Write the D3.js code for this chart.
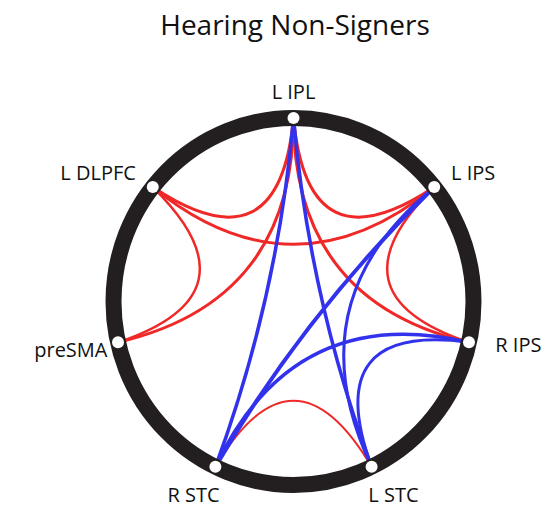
<!DOCTYPE html>
<html>
<head>
<meta charset="utf-8">
<title>Hearing Non-Signers</title>
<script src="https://cdn.jsdelivr.net/npm/d3@7"></script>
<style>
  body { margin: 0; background: #fff; }
  text { font-family: "Open Sans", sans-serif; fill: #111; }
</style>
</head>
<body>
<script>
  // regions round the ring, clockwise from the top
  var regions = ["L IPL", "L IPS", "R IPS", "L STC", "R STC", "preSMA", "L DLPFC"];

  // red connections: [from, to, strength]
  var redLinks = [
    ["L IPL", "L IPS", 3],
    ["L IPL", "L DLPFC", 3],
    ["L DLPFC", "L IPS", 3],
    ["L DLPFC", "preSMA", 2.5],
    ["preSMA", "L IPL", 3],
    ["R IPS", "L IPL", 3],
    ["L IPS", "R IPS", 2.5],
    ["L STC", "R STC", 2]
  ];

  // blue connections: [from, to, strength]
  var blueLinks = [
    ["L IPL", "R STC", 3.5],
    ["L IPL", "L STC", 3.5],
    ["L IPS", "R STC", 4],
    ["L IPS", "L STC", 3],
    ["R IPS", "R STC", 3.5],
    ["R IPS", "L STC", 3]
  ];

  var width = 556, height = 516;
  var cx = 293.5, cy = 301.5, rx = 180, ry = 183.5;

  var svg = d3.select("body").append("svg")
      .attr("width", width)
      .attr("height", height);

  // scales: index -> angle, unit circle -> pixels
  var angle = d3.scaleLinear().domain([0, regions.length]).range([-Math.PI / 2, 3 * Math.PI / 2]);
  var x = d3.scaleLinear().domain([-1, 1]).range([cx - rx, cx + rx]);
  var y = d3.scaleLinear().domain([-1, 1]).range([cy - ry, cy + ry]);
  var stroke = d3.scaleLinear().domain([0, 4]).range([0, 4]);

  function pos(name) {
    var a = angle(regions.indexOf(name));
    return [x(Math.cos(a)), y(Math.sin(a))];
  }

  // how far the bend pulls toward the middle, by number of steps apart
  var pull = [0, 0.8, 1.0, 0.6];

  function linkPath(d) {
    var i = regions.indexOf(d[0]), j = regions.indexOf(d[1]);
    var steps = Math.abs(i - j);
    steps = Math.min(steps, regions.length - steps);
    var p0 = pos(d[0]), p2 = pos(d[1]);
    var mx = (p0[0] + p2[0]) / 2, my = (p0[1] + p2[1]) / 2;
    var f = pull[steps];
    var c = [mx + (x(0) - mx) * f, my + (y(0) - my) * f];
    var p = d3.path();
    p.moveTo(p0[0], p0[1]);
    p.quadraticCurveTo(c[0], c[1], p2[0], p2[1]);
    return p.toString();
  }

  // title
  svg.append("text")
    .attr("x", 295)
    .attr("y", 35)
    .attr("text-anchor", "middle")
    .style("font-size", "28px")
    .text("Hearing Non-Signers");

  var links = svg.append("g").attr("fill", "none");

  links.selectAll(".red")
    .data(redLinks)
    .enter().append("path")
    .attr("class", "red")
    .attr("d", linkPath)
    .attr("stroke", "#f02828")
    .attr("stroke-width", function (d) { return stroke(d[2]); });

  links.selectAll(".blue")
    .data(blueLinks)
    .enter().append("path")
    .attr("class", "blue")
    .attr("d", linkPath)
    .attr("stroke", "#3232ec")
    .attr("stroke-width", function (d) { return stroke(d[2]); });

  // the ring
  svg.append("ellipse")
    .attr("cx", x(0))
    .attr("cy", y(0))
    .attr("rx", rx)
    .attr("ry", ry)
    .attr("fill", "none")
    .attr("stroke", "#231f20")
    .attr("stroke-width", 16);

  // nodes
  svg.selectAll(".node")
    .data(regions)
    .enter().append("circle")
    .attr("class", "node")
    .attr("cx", function (d) { return pos(d)[0]; })
    .attr("cy", function (d) { return pos(d)[1]; })
    .attr("r", 6)
    .attr("fill", "#fff");

  // labels sit outside the ring; side decides the anchor
  function side(d) {
    var a = angle(regions.indexOf(d));
    return { c: Math.cos(a), s: Math.sin(a) };
  }

  svg.selectAll(".label")
    .data(regions)
    .enter().append("text")
    .attr("class", "label")
    .style("font-size", "20px")
    .attr("dy", "0.35em")
    .attr("text-anchor", function (d) {
      var c = side(d).c;
      return Math.abs(c) < 0.5 ? "middle" : (c > 0 ? "start" : "end");
    })
    .attr("x", function (d) {
      var c = side(d).c, s = side(d).s;
      var r;
      if (Math.abs(c) < 0.5) r = 1.28;
      else if (Math.abs(s) < 0.5) r = c > 0 ? 1.15 : 1.06;
      else r = 1.12;
      return x(c * r);
    })
    .attr("y", function (d) {
      var c = side(d).c, s = side(d).s;
      if (Math.abs(c) < 0.5) return y(s * (s < -0.99 ? 1.142 : 1.17));
      if (Math.abs(s) < 0.5) return y(s * (c > 0 ? 1.065 : 1.19));
      return y(s * 1.127);
    })
    .text(function (d) { return d; });
</script>
</body>
</html>
